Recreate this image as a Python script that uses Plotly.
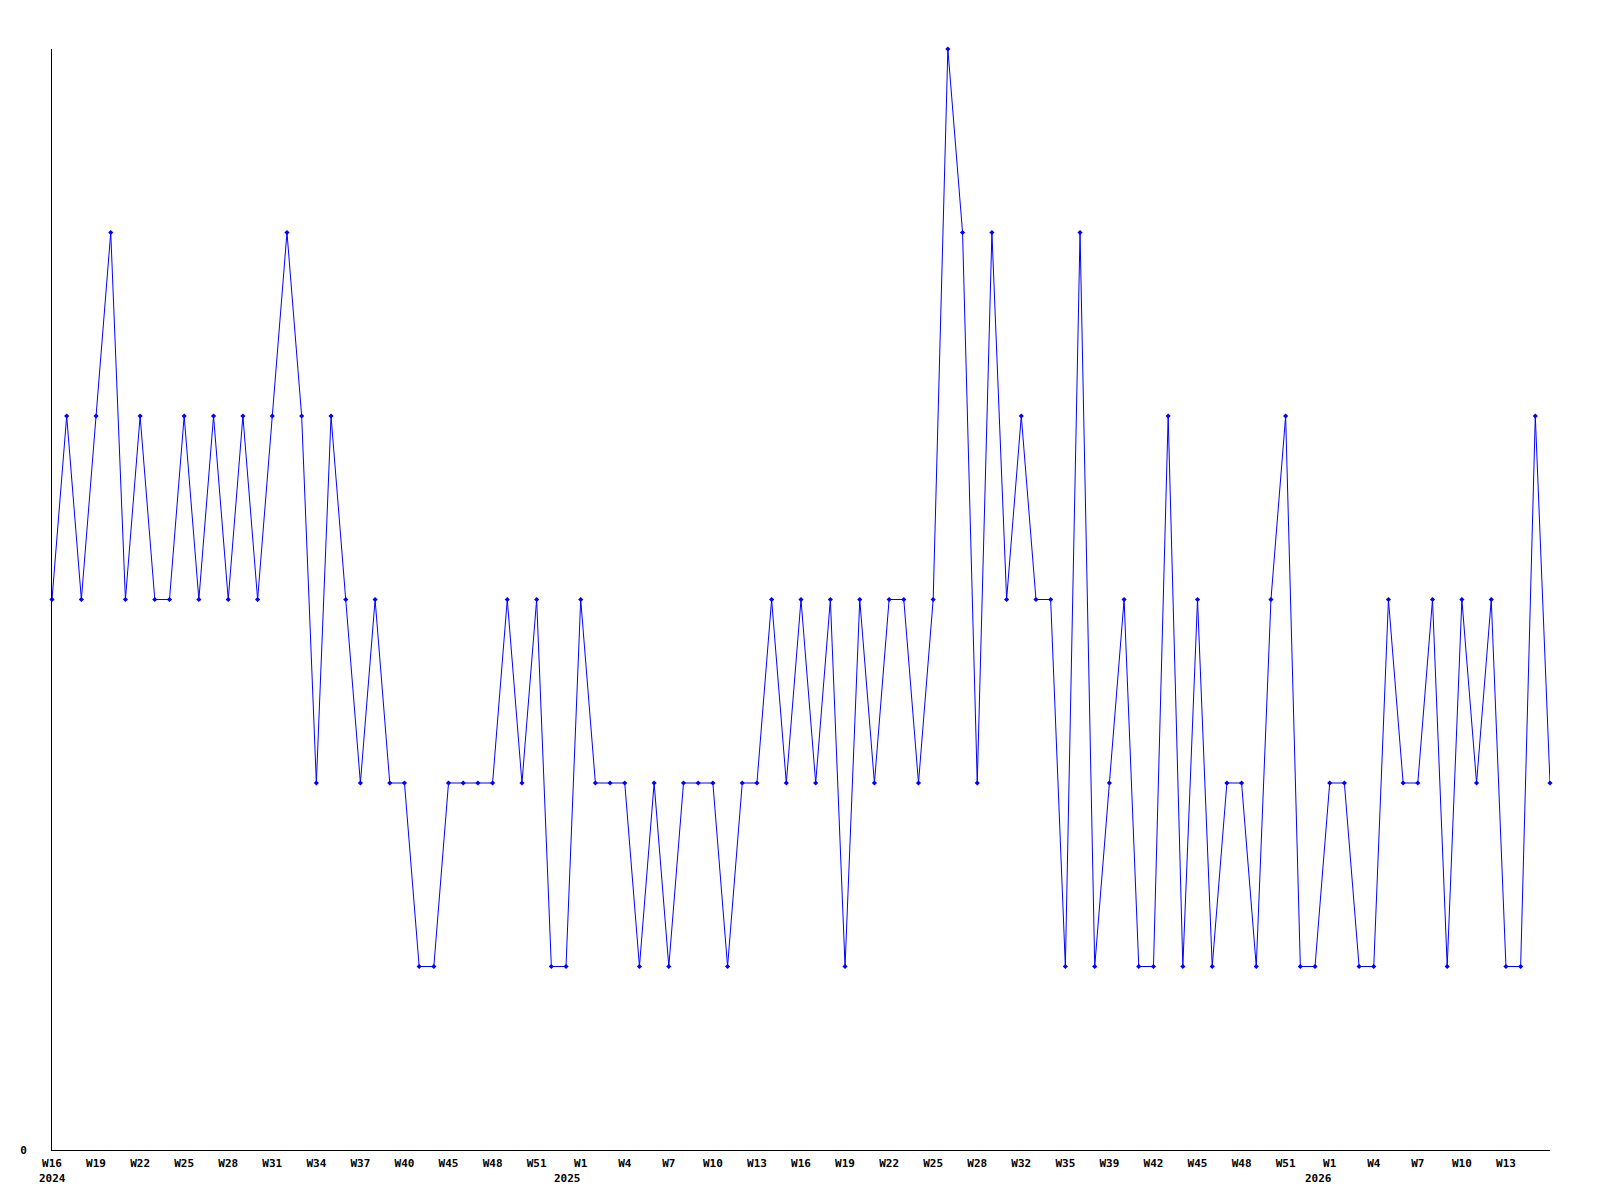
import plotly.graph_objects as go

# weekly values, W16 2024 .. W15 2026 (one point per week slot)
week_values = [
    3, 4, 3, 4, 5, 3, 4, 3, 3, 4, 3, 4, 3, 4, 3, 4, 5, 4, 2, 4,
    3, 2, 3, 2, 2, 1, 1, 2, 2, 2, 2, 3, 2, 3, 1, 1, 3, 2, 2, 2,
    1, 2, 1, 2, 2, 2, 1, 2, 2, 3, 2, 3, 2, 3, 1, 3, 2, 3, 3, 2,
    3, 6, 5, 2, 5, 3, 4, 3, 3, 1, 5, 1, 2, 3, 1, 1, 4, 1, 3, 1,
    2, 2, 1, 3, 4, 1, 1, 2, 2, 1, 1, 3, 2, 2, 3, 1, 3, 2, 3, 1,
    1, 4, 2,
]

# labels shown on every third week slot
tick_labels = [
    "W16", "W19", "W22", "W25", "W28", "W31", "W34", "W37", "W40", "W45",
    "W48", "W51", "W1", "W4", "W7", "W10", "W13", "W16", "W19", "W22",
    "W25", "W28", "W32", "W35", "W39", "W42", "W45", "W48", "W51", "W1",
    "W4", "W7", "W10", "W13",
]

# year captions and the slot they sit under
year_labels = ["2024", "2025", "2026"]
year_slots = [0, 36, 87]

x_idx = list(range(len(week_values)))
tick_pos = [i * 3 for i in range(len(tick_labels))]

font = dict(family="DejaVu Sans Mono", size=11, color="black", weight="bold")

fig = go.Figure()
fig.add_trace(
    go.Scatter(
        x=x_idx,
        y=week_values,
        mode="lines+markers",
        line=dict(color="#0000ff", width=1),
        marker=dict(color="#0000ff", size=4, symbol="diamond"),
        cliponaxis=False,
        hoverinfo="y",
    )
)

for label, slot, anchor, shift in zip(
    year_labels, year_slots, ["left", "right", "right"], [-15, 2, 4]
):
    fig.add_annotation(
        x=slot, y=0, xref="x", yref="y",
        text=label, showarrow=False,
        xanchor=anchor, yanchor="top", xshift=shift, yshift=-20,
        font=font,
    )

# page body has an 8px margin, so the figure is sized to fit inside it
fig.update_layout(
    width=1584,
    height=1184,
    margin=dict(l=42, r=42, t=41, b=42),
    paper_bgcolor="white",
    plot_bgcolor="white",
    showlegend=False,
    font=font,
)
fig.update_xaxes(
    range=[0, len(week_values) - 1],
    tickvals=tick_pos,
    ticktext=tick_labels,
    tickangle=0,
    showgrid=False,
    zeroline=False,
    showline=True,
    linecolor="black",
    linewidth=1,
    ticks="outside",
    ticklen=3,
    tickcolor="rgba(0,0,0,0)",
    tickfont=font,
)
fig.update_yaxes(
    range=[0, 6],
    tickvals=[0],
    ticktext=["0"],
    showgrid=False,
    zeroline=False,
    showline=True,
    linecolor="black",
    linewidth=1,
    ticks="outside",
    ticklen=22,
    tickcolor="rgba(0,0,0,0)",
    tickfont=font,
)

fig.write_html("out.html")
